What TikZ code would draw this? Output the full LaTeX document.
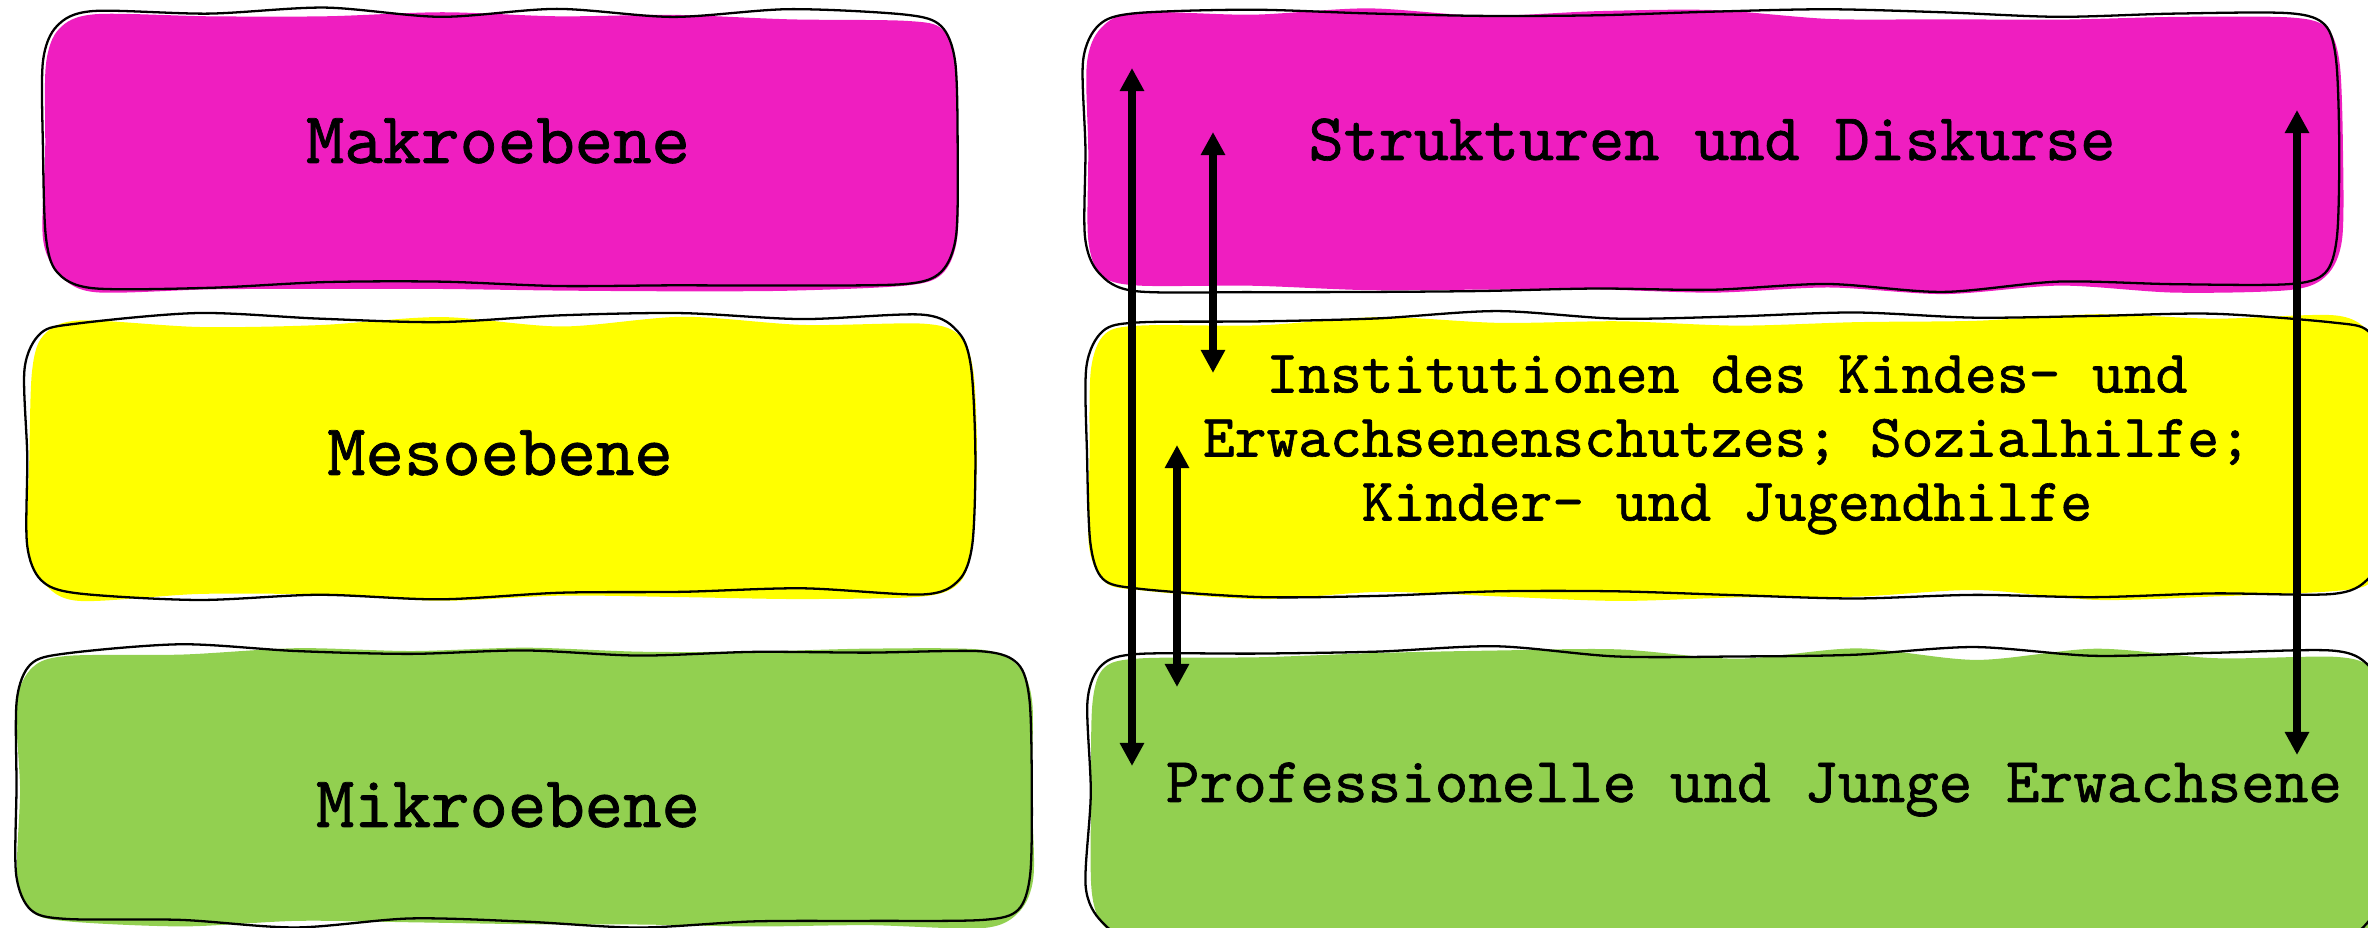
\documentclass[tikz,border=0pt]{standalone}
\usepackage{fontspec}
\usetikzlibrary{arrows.meta}
\newfontfamily\bxfont{lmmono10-regular.otf}[FakeBold=1]
\definecolor{cmag}{RGB}{239,30,192}
\definecolor{cyel}{RGB}{255,255,0}
\definecolor{cgrn}{RGB}{146,208,80}
% hand-drawn rounded box: #1 x1, #2 y1, #3 x2, #4 y2, #5 amplitude, #6 path options
\newcommand\blob[6]{%
  \gdef\blobpts{}%
  \pgfmathtruncatemacro\blobnh{max(2,round((#3-#1-100)/120))}%
  \pgfmathtruncatemacro\blobnv{max(1,round((#4-#2-100)/90))}%
  \foreach \blobi in {0,...,\blobnh}{%
    \pgfmathsetmacro\blobx{#1+50+\blobi*(#3-#1-100)/\blobnh}%
    \pgfmathsetmacro\bloby{#2+#5*rand}%
    \xdef\blobpts{\blobpts (\blobx,\bloby)}}%
  \xdef\blobpts{\blobpts (#3-14,#2+14)}%
  \foreach \blobi in {0,...,\blobnv}{%
    \pgfmathsetmacro\bloby{#2+50+\blobi*(#4-#2-100)/\blobnv}%
    \pgfmathsetmacro\blobx{#3+0.5*#5*rand}%
    \xdef\blobpts{\blobpts (\blobx,\bloby)}}%
  \xdef\blobpts{\blobpts (#3-14,#4-14)}%
  \foreach \blobi in {0,...,\blobnh}{%
    \pgfmathsetmacro\blobx{#3-50-\blobi*(#3-#1-100)/\blobnh}%
    \pgfmathsetmacro\bloby{#4+#5*rand}%
    \xdef\blobpts{\blobpts (\blobx,\bloby)}}%
  \xdef\blobpts{\blobpts (#1+14,#4-14)}%
  \foreach \blobi in {0,...,\blobnv}{%
    \pgfmathsetmacro\bloby{#4-50-\blobi*(#4-#2-100)/\blobnv}%
    \pgfmathsetmacro\blobx{#1+0.5*#5*rand}%
    \xdef\blobpts{\blobpts (\blobx,\bloby)}}%
  \xdef\blobpts{\blobpts (#1+14,#2+14)}%
  \edef\blobcmd{\noexpand\path[#6] plot[smooth cycle, tension=0.5] coordinates {\blobpts};}%
  \blobcmd}
\tikzset{
  edgeline/.style={draw=black, line width=0.65pt},
  lbl/.style={align=center, inner sep=0pt},
  dbl/.style={line width=2pt, {Triangle[length=0.23cm,width=0.23cm]}-{Triangle[length=0.23cm,width=0.23cm]}}
}
\begin{document}
\begin{tikzpicture}[x=0.01cm,y=-0.01cm]
\useasboundingbox (0,0) rectangle (2368,928);
\pgfmathsetseed{7}
% left boxes
\blob{45}{15}{956}{288}{6}{fill=cmag}
\blob{43}{12}{955}{286}{6}{edgeline}
\blob{29}{322}{974}{596}{6}{fill=cyel}
\blob{27}{319}{973}{594}{6}{edgeline}
\blob{19}{653}{1033}{926}{6}{fill=cgrn}
\blob{17}{650}{1032}{924}{6}{edgeline}
% right boxes
\blob{1087}{14}{2341}{289}{6}{fill=cmag}
\blob{1085}{11}{2339}{287}{6}{edgeline}
\blob{1091}{320}{2385}{596}{6}{fill=cyel}
\blob{1089}{317}{2382}{593}{6}{edgeline}
\blob{1090}{654}{2385}{940}{6}{fill=cgrn}
\blob{1088}{651}{2382}{936}{6}{edgeline}
% labels
\node[lbl, font={\bxfont\fontsize{20.8pt}{22pt}\selectfont}, anchor=base] (makro) at (498,163) {Makroebene};
\node[lbl, font={\bxfont\fontsize{20.8pt}{22pt}\selectfont}, anchor=base] (meso) at (500,475) {Mesoebene};
\node[lbl, font={\bxfont\fontsize{20.8pt}{22pt}\selectfont}, anchor=base] (mikro) at (508,827) {Mikroebene};
\node[lbl, font={\bxfont\fontsize{19pt}{21pt}\selectfont}, anchor=base] (struk) at (1712,160) {Strukturen und Diskurse};
\node[lbl, font={\bxfont\fontsize{17.2pt}{18.2pt}\selectfont}] (inst) at (1727,445) {Institutionen des Kindes- und\\Erwachsenenschutzes; Sozialhilfe;\\Kinder- und Jugendhilfe};
\node[lbl, font={\bxfont\fontsize{18.2pt}{20pt}\selectfont}, anchor=base] (prof) at (1754,802) {Professionelle und Junge Erwachsene};
% arrows
\coordinate (a1) at (1132,68);  \coordinate (a2) at (1132,766);
\coordinate (b1) at (1213,132); \coordinate (b2) at (1213,373);
\coordinate (c1) at (1177,445); \coordinate (c2) at (1177,687);
\coordinate (d1) at (2297,110); \coordinate (d2) at (2297,755);
\draw[dbl] (a1) -- (a2);
\draw[dbl] (b1) -- (b2);
\draw[dbl] (c1) -- (c2);
\draw[dbl] (d1) -- (d2);
\end{tikzpicture}
\end{document}
